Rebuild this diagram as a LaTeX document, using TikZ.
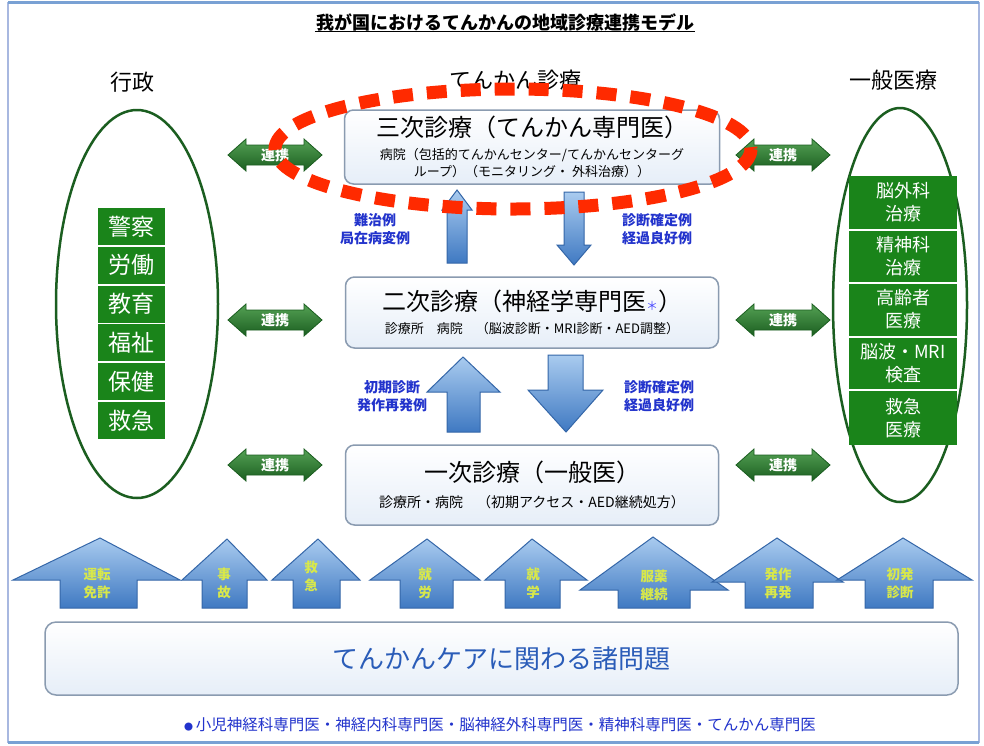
\documentclass[tikz,border=0pt]{standalone}
\usepackage{fontspec}
\setmainfont{Noto Sans CJK JP}
\usetikzlibrary{shapes.geometric}
\definecolor{gbox}{HTML}{1A841A}
\definecolor{gline}{HTML}{1B5E20}
\definecolor{boxline}{HTML}{8A9BB0}
\definecolor{boxfill}{HTML}{E6EEF8}
\definecolor{arrtop}{HTML}{A9CBEF}
\definecolor{arrbot}{HTML}{3F79C2}
\definecolor{arrline}{HTML}{3466A8}
\definecolor{lblue}{HTML}{2233CC}
\definecolor{yel}{HTML}{D8E84A}
\definecolor{redd}{HTML}{FF2A00}
\definecolor{frame}{HTML}{A8B8E0}
\definecolor{rgreen}{HTML}{2A8A2A}
\definecolor{issueblue}{HTML}{2A5CB8}
\newcommand\fs[2]{\fontsize{#1}{#2}\selectfont}
\newcommand\blockup[8]{\path[blockarrow] (#1,#2) -- (#4,#5) -- (#7,#5) -- (#7,#8) -- (#6,#8) -- (#6,#5) -- (#3,#5) -- cycle;}
\newcommand\renkei[3]{%
  \path[renkeiarrow] (#1-47,#2) -- (#1-29,#2-16) -- (#1-29,#2-10) -- (#1+29,#2-10) -- (#1+29,#2-16) -- (#1+47,#2) -- (#1+29,#2+16) -- (#1+29,#2+10) -- (#1-29,#2+10) -- (#1-29,#2+16) -- cycle;
  \node[renkeitext] (#3) at (#1,#2) {連携};}
\begin{document}
\begin{tikzpicture}[x=1pt,y=-1pt,
  mainbox/.style={draw=boxline, line width=1.5pt, rounded corners=9pt, top color=white, bottom color=boxfill},
  gcell/.style={fill=gbox, text=white, inner sep=0pt, align=center},
  blockarrow/.style={draw=arrline, line width=1pt, top color=arrtop, bottom color=arrbot, line join=miter},
  renkeiarrow/.style={draw=gline, line width=0.8pt, top color=rgreen!80, bottom color=gline},
  renkeitext/.style={text=white, font=\fs{14}{16}\bfseries},
  bluelabel/.style={text=lblue, font=\fs{14}{18}\bfseries, align=center},
  houselabel/.style={text=yel, font=\fs{13.5}{18}\bfseries, align=center}]
\useasboundingbox (0,0) rectangle (984,745);
\fill[white] (0,0) rectangle (984,745);
\draw[frame, line width=2pt] (8,3) rectangle (979,742);
\draw[arrbot!70, line width=3pt] (8,2) -- (979,2);
\draw[arrbot!70, line width=3pt] (8,742) -- (979,742);

% title and headers
\node[font=\fs{18}{22}\bfseries, inner sep=1pt] (title) at (505,22) {我が国におけるてんかんの地域診療連携モデル};
\draw[line width=1pt] (title.south west) -- (title.south east);
\node[font=\fs{22}{26}] (hgyosei) at (132,82) {行政};
\node[font=\fs{22}{26}] (hepi) at (515,80) {てんかん診療};
\node[font=\fs{22}{26}] (hgen) at (893,80) {一般医療};

% left ellipse
\node[draw=gline, line width=2.5pt, ellipse, minimum width=162pt, minimum height=388pt] (lell) at (137,304) {};
\foreach \t [count=\i from 0] in {警察,労働,教育,福祉,保健,救急}{
  \node[gcell, minimum width=67pt, minimum height=37pt, font=\fs{23}{26}] (l\i) at (131.5,226.4+38.8*\i) {\t};
}
% right ellipse
\node[draw=gline, line width=2.5pt, ellipse, minimum width=134pt, minimum height=394pt] (rell) at (900,305) {};
\node[gcell, minimum width=108pt, minimum height=53pt, font=\fs{18}{23}] (r0) at (903,202) {脳外科\\治療};
\node[gcell, minimum width=108pt, minimum height=51pt, font=\fs{18}{23}] (r1) at (903,256) {精神科\\治療};
\node[gcell, minimum width=108pt, minimum height=52pt, font=\fs{18}{23}] (r2) at (903,309.5) {高齢者\\医療};
\node[gcell, minimum width=108pt, minimum height=51pt, font=\fs{18}{23}] (r3) at (903,363) {脳波・MRI\\検査};
\node[gcell, minimum width=108pt, minimum height=54pt, font=\fs{18}{23}] (r4) at (903,418) {救急\\医療};

% main boxes
\node[mainbox, minimum width=375pt, minimum height=74pt] (tert) at (532,147) {};
\node[font=\fs{24}{28}] (terttitle) at (532,127) {三次診療（てんかん専門医）};
\node[font=\fs{13}{17}, align=center] (tertsub) at (532,163) {病院（包括的てんかんセンター/てんかんセンターグ\\ループ）（モニタリング・ 外科治療））};

\node[mainbox, minimum width=373pt, minimum height=71pt] (sec) at (532,312.5) {};
\node[font=\fs{24}{28}] (sectitle) at (532,301) {二次診療（神経学専門医{\color{blue!70}\fs{12}{14}＊}）};
\node[font=\fs{13}{15}] (secsub) at (532,329) {診療所　病院　（脳波診断・MRI診断・AED調整）};

\node[mainbox, minimum width=373pt, minimum height=80pt] (prim) at (532,485) {};
\node[font=\fs{24}{28}] (primtitle) at (532,472) {一次診療（一般医）};
\node[font=\fs{14}{16}] (primsub) at (532,502) {診療所・病院　（初期アクセス・AED継続処方）};

% vertical arrows
\path[blockarrow] (457,190) -- (472,210) -- (467,210) -- (467,263) -- (447,263) -- (447,210) -- (442,210) -- cycle;
\path[blockarrow] (574,265) -- (591,245) -- (584,245) -- (584,192) -- (564,192) -- (564,245) -- (557,245) -- cycle;
\node[bluelabel] (lab1) at (375,229) {難治例\\局在病変例};
\node[bluelabel] (lab2) at (657,229) {診断確定例\\経過良好例};

\path[blockarrow] (463,357) -- (500,392) -- (480,392) -- (480,432) -- (447,432) -- (447,392) -- (427,392) -- cycle;
\path[blockarrow] (566,432) -- (603,390) -- (583,390) -- (583,355) -- (548,355) -- (548,390) -- (528,390) -- cycle;
\node[bluelabel] (lab3) at (392,396) {初期診断\\発作再発例};
\node[bluelabel] (lab4) at (659,396) {診断確定例\\経過良好例};

% renkei arrows
\renkei{275}{155}{rkl1}
\renkei{275}{320}{rkl2}
\renkei{275}{465}{rkl3}
\renkei{783}{155}{rkr1}
\renkei{783}{320}{rkr2}
\renkei{783}{465}{rkr3}

% house arrows
\blockup{100}{538}{13}{180}{580}{60}{137}{608}
\blockup{227}{539}{182}{267}{580}{202}{247}{608}
\blockup{318}{539}{272}{360}{580}{293}{340}{608}
\blockup{427}{539}{370}{480}{580}{400}{453}{608}
\blockup{532}{539}{485}{587}{580}{505}{560}{608}
\blockup{653}{537}{580}{728}{590}{618}{690}{608}
\blockup{777}{538}{712}{843}{582}{745}{813}{608}
\blockup{903}{538}{837}{972}{580}{865}{933}{608}
\node[houselabel] (h1) at (97,583) {運転\\免許};
\node[houselabel] (h2) at (224,583) {事\\故};
\node[houselabel] (h3) at (311,576) {救\\急};
\node[houselabel] (h4) at (425,583) {就\\労};
\node[houselabel] (h5) at (533,583) {就\\学};
\node[houselabel] (h6) at (654,585) {服薬\\継続};
\node[houselabel] (h7) at (778,583) {発作\\再発};
\node[houselabel] (h8) at (900,583) {初発\\診断};

% bottom box
\node[mainbox, minimum width=913pt, minimum height=73pt, rounded corners=11pt] (issues) at (501.5,658.5) {};
\node[text=issueblue, font=\fs{26}{30}] (issuestext) at (501.5,659) {てんかんケアに関わる諸問題};

% footnote
\node[text=lblue, font=\fs{15.5}{18}] (foot) at (500,725) {{\fs{9}{10}●}\,小児神経科専門医・神経内科専門医・脳神経外科専門医・精神科専門医・てんかん専門医};

% red dashed ellipse
\draw[redd, line width=13pt, dash pattern=on 20pt off 14pt] (513,149) ellipse [x radius=238, y radius=60];
\end{tikzpicture}
\end{document}
